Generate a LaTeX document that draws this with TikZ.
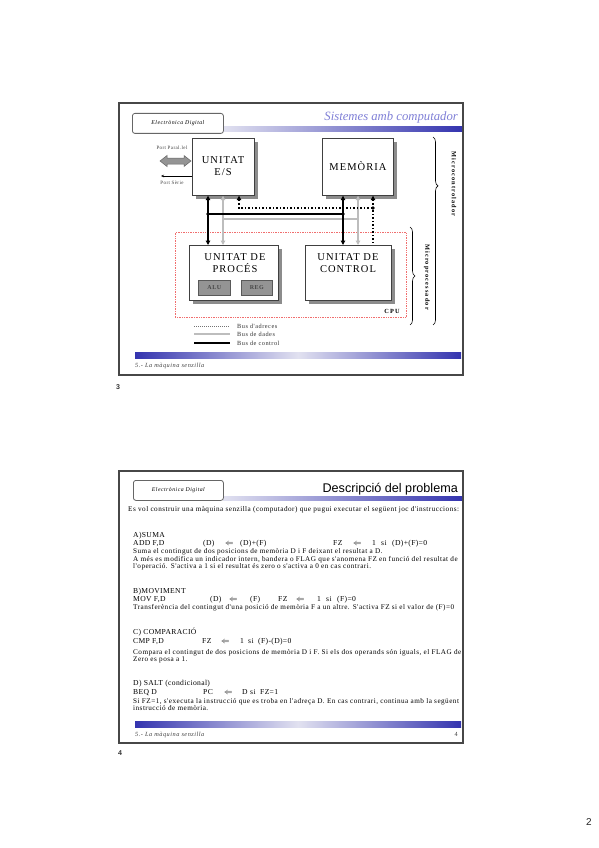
\documentclass[tikz,border=0pt]{standalone}
\usepackage{fontspec}
\setmainfont{Liberation Serif}
\newfontfamily\sansf{Liberation Sans}
\newfontfamily\boxf[LetterSpace=10]{Liberation Serif}
\newfontfamily\spacedf[LetterSpace=18]{Liberation Serif}
\newfontfamily\bodyf[LetterSpace=6.5]{Liberation Serif}
\newfontfamily\headf[LetterSpace=4.5]{Liberation Serif}
\newfontfamily\lsf[LetterSpace=8]{Liberation Serif}
\usetikzlibrary{arrows.meta,decorations.pathreplacing,shadows}
\definecolor{barblue}{RGB}{52,52,175}
\definecolor{barlight}{RGB}{225,225,240}
\definecolor{titlelav}{RGB}{128,128,215}
\definecolor{cpured}{RGB}{240,110,110}
\begin{document}
\begin{tikzpicture}[x=1pt,y=-1pt,
  slideframe/.style={draw=black!72,line width=1.3pt},
  hdrbox/.style={draw=black!60,line width=0.8pt,rounded corners=2.5pt,fill=white},
  unitbox/.style={draw=black!75,fill=white,line width=0.7pt,inner sep=0pt,anchor=north west,
    drop shadow={shadow xshift=3.5pt,shadow yshift=-3.5pt,fill=black!45,opacity=1}},
  subbox/.style={draw=black!65,fill=black!42,line width=0.6pt,inner sep=0pt,anchor=north west,
    font=\lsf\fontsize{6}{6}\bfseries\selectfont,text=black!72},
  boxtxt/.style={font=\boxf\fontsize{10.5}{12.5}\selectfont,align=center,inner sep=0pt},
  cbus/.style={line width=1.6pt,black},
  dbus/.style={line width=1.6pt,black!26},
  abus/.style={line width=1.5pt,black,dotted},
  body/.style={font=\bodyf\fontsize{7.2}{8}\selectfont,anchor=base west,inner sep=0pt},
  head/.style={font=\headf\fontsize{7.6}{8}\selectfont,anchor=base west,inner sep=0pt},
  small/.style={font=\lsf\fontsize{6.3}{6}\selectfont,anchor=west,inner sep=0pt,text=black!80},
  foot/.style={font=\lsf\fontsize{6.3}{6}\itshape\selectfont,anchor=base west,inner sep=0pt,text=black!75},
  hdrtxt/.style={font=\lsf\fontsize{5.8}{6}\itshape\selectfont,inner sep=0pt},
  porttxt/.style={font=\lsf\fontsize{5}{5}\selectfont,inner sep=0pt,text=black!75},
  pnum/.style={font=\sansf\fontsize{7}{7}\bfseries\selectfont,inner sep=0pt,text=black!80}
]
\useasboundingbox (0,0) rectangle (599,848);
\fill[white] (0,0) rectangle (599,848);

% ================= SLIDE 3 =================
\draw[slideframe] (119,103) rectangle (463,375);
\shade[left color=barlight,right color=barblue] (223,127) rectangle (462,132);
\node[hdrbox,minimum width=91pt,minimum height=20pt,anchor=north west] (hdr1) at (132,113) {};
\node[hdrtxt] (hdr1t) at (hdr1.center) {Electrònica Digital};
\node[font=\fontsize{12.7}{13}\itshape\selectfont,text=titlelav,anchor=base east,inner sep=0pt] (tit1) at (458,121) {Sistemes amb computador};

% units
\node[unitbox,minimum width=62pt,minimum height=57pt] (es) at (192,138) {};
\node[boxtxt] (eslbl) at (223,166) {UNITAT\\E/S};
\node[unitbox,minimum width=71pt,minimum height=57pt] (mem) at (322,138) {};
\node[boxtxt] (memlbl) at (358,166) {MEMÒRIA};

% CPU region
\node[draw=cpured,densely dotted,line width=0.7pt,minimum width=231pt,minimum height=85pt,anchor=north west,inner sep=0pt] (cpu) at (175,232) {};
\node[font=\spacedf\fontsize{6.3}{6}\bfseries\selectfont,inner sep=0pt] (cpulbl) at (392,311) {CPU};

\node[unitbox,minimum width=89pt,minimum height=55pt] (proc) at (189,245) {};
\node[boxtxt] (proclbl) at (235,263) {UNITAT DE\\PROCÉS};
\node[subbox,minimum width=32pt,minimum height=15pt] (alu) at (198,280) {ALU};
\node[subbox,minimum width=31pt,minimum height=15pt] (reg) at (241,280) {REG};
\node[unitbox,minimum width=86pt,minimum height=55pt] (ctrl) at (305,245) {};
\node[boxtxt] (ctrllbl) at (348,263) {UNITAT DE\\CONTROL};

% buses
\coordinate (cb1) at (208,214); \coordinate (cb2) at (343,214);
\coordinate (db1) at (223,219); \coordinate (db2) at (358,219);
\coordinate (ab1) at (239,208); \coordinate (ab2) at (373,208);
\draw[dbus,{Triangle[length=4.5pt,width=4.5pt]}-{Triangle[length=4.5pt,width=4.5pt]}] (es.south -| db1) -- (proc.north -| db1);
\draw[dbus,{Triangle[length=4.5pt,width=4.5pt]}-{Triangle[length=4.5pt,width=4.5pt]}] (mem.south -| db2) -- (ctrl.north -| db2);
\draw[dbus] (db1) -- (db2);
\draw[cbus,{Triangle[length=4.5pt,width=4.5pt]}-{Triangle[length=4.5pt,width=4.5pt]}] (es.south -| cb1) -- (proc.north -| cb1);
\draw[cbus,{Triangle[length=4.5pt,width=4.5pt]}-{Triangle[length=4.5pt,width=4.5pt]}] (mem.south -| cb2) -- (ctrl.north -| cb2);
\draw[cbus] (cb1) -- (cb2);
\fill (cb1) circle (1.9); \fill (cb2) circle (1.9);
\draw[abus,{Triangle[length=4.5pt,width=4.5pt]}-] (es.south -| ab1) -- (ab1) -- (ab2);
\draw[abus,{Triangle[length=4.5pt,width=4.5pt]}-] (mem.south -| ab2) -- (ctrl.north -| ab2);
\fill (ab2) circle (1.9);

% ports
\coordinate (ppl) at (160,161); \coordinate (ppr) at (191,161);
\filldraw[fill=black!42,draw=black!60,line width=0.5pt]
  (ppl) -- ++(7,-5.5) -- ++(0,2.5) -- ++(17,0) -- ++(0,-2.5) -- (ppr)
  -- ++(-7,5.5) -- ++(0,-2.5) -- ++(-17,0) -- ++(0,2.5) -- cycle;
\node[porttxt] (pparl) at (172,148) {Port Paral.lel};
\coordinate (pser) at (161,176);
\draw[-{Stealth[length=3pt,width=2.5pt]},line width=0.6pt] (es.west |- pser) -- (pser);
\node[porttxt] (pserl) at (172,183) {Port Sèrie};

% braces
\draw[decorate,decoration={brace,amplitude=5pt,aspect=0.26},line width=0.6pt] (433,137) -- (433,325);
\node[font=\spacedf\fontsize{6.3}{6}\bfseries\selectfont,rotate=-90,inner sep=0pt] (mctrl) at (454,184) {Microcontrolador};
\draw[decorate,decoration={brace,amplitude=5pt},line width=0.6pt] (410,227) -- (410,325);
\node[font=\spacedf\fontsize{6.3}{6}\bfseries\selectfont,rotate=-90,inner sep=0pt] (mproc) at (427,277) {Microprocessador};

% legend
\coordinate (l1a) at (194,326); \coordinate (l1b) at (230,326);
\coordinate (l2a) at (194,334); \coordinate (l2b) at (230,334);
\coordinate (l3a) at (194,343); \coordinate (l3b) at (230,343);
\draw[line width=1pt,black!55,densely dotted] (l1a) -- (l1b);
\draw[line width=1.2pt,black!26] (l2a) -- (l2b);
\draw[line width=1.5pt,black] (l3a) -- (l3b);
\node[small] (lg1) at (237,326) {Bus d'adreces};
\node[small] (lg2) at (237,334.5) {Bus de dades};
\node[small] (lg3) at (237,343) {Bus de control};

\shade[left color=barblue,right color=barblue,middle color=barlight] (135,352) rectangle (461,358);
\node[foot] (foot1) at (135,367) {5.- La màquina senzilla};
\node[pnum] (pn3) at (118,387) {3};

% ================= SLIDE 4 =================
\draw[slideframe] (119,471) rectangle (463,743);
\shade[left color=barlight,right color=barblue] (223,496) rectangle (462,500);
\node[hdrbox,minimum width=90pt,minimum height=20pt,anchor=north west] (hdr2) at (133,480) {};
\node[hdrtxt] (hdr2t) at (hdr2.center) {Electrònica Digital};
\node[font=\sansf\fontsize{12.6}{13}\selectfont,anchor=base east,inner sep=0pt] (tit2) at (458,492) {Descripció del problema};

\node[body] (t0) at (128,511) {Es vol construir una màquina senzilla (computador) que pugui executar el següent joc d'instruccions:};

\node[head] (ah) at (133,537) {A)SUMA};
\node[head] (a1) at (133,545) {ADD F,D};
\node[head] (a2) at (203,545) {(D)};
\node[head] (a3) at (225,545) {$\Leftarrow$};
\node[head] (a4) at (240,545) {(D)+(F)};
\node[head] (a5) at (333,545) {FZ};
\node[head] (a6) at (353,545) {$\Leftarrow$};
\node[head] (a7) at (372,545) {1};
\node[head] (a7b) at (381,545) {si};
\node[head] (a7c) at (392,545) {(D)+(F)=0};
\node[body] (a8) at (133,553.5) {Suma el contingut de dos posicions de memòria D i F deixant el resultat a D.};
\node[body] (a9) at (133,561.5) {A més es modifica un indicador intern, bandera o FLAG que s'anomena FZ en funció del resultat de};
\node[body] (a10) at (133,568.5) {l'operació. S'activa a 1 si el resultat és zero o s'activa a 0 en cas contrari.};

\node[head] (bh) at (133,593) {B)MOVIMENT};
\node[head] (b1) at (133,601) {MOV F,D};
\node[head] (b2) at (210,601) {(D)};
\node[head] (b3) at (229,601) {$\Leftarrow$};
\node[head] (b4) at (250,601) {(F)};
\node[head] (b5) at (278,601) {FZ};
\node[head] (b6) at (296,601) {$\Leftarrow$};
\node[head] (b7) at (317,601) {1};
\node[head] (b7b) at (326,601) {si};
\node[head] (b7c) at (337,601) {(F)=0};
\node[body] (b8) at (133,609.5) {Transferència del contingut d'una posició de memòria F a un altre. S'activa FZ si el valor de (F)=0};

\node[head] (ch) at (133,634) {C) COMPARACIÓ};
\node[head] (c1) at (133,643) {CMP F,D};
\node[head] (c2) at (202,643) {FZ};
\node[head] (c3) at (221,643) {$\Leftarrow$};
\node[head] (c4) at (240,643) {1};
\node[head] (c4b) at (248,643) {si};
\node[head] (c4c) at (258,643) {(F)-(D)=0};
\node[body] (c5) at (133,654.5) {Compara el contingut de dos posicions de memòria D i F. Si els dos operands són iguals, el FLAG de};
\node[body] (c6) at (133,661.5) {Zero es posa a 1.};

\node[head] (dh) at (133,685) {D) SALT (condicional)};
\node[head] (d1) at (133,694) {BEQ D};
\node[head] (d2) at (203,694) {PC};
\node[head] (d3) at (224,694) {$\Leftarrow$};
\node[head] (d4) at (242,694) {D};
\node[head] (d4b) at (250,694) {si};
\node[head] (d4c) at (260,694) {FZ=1};
\node[body] (d5) at (133,703.5) {Si FZ=1, s'executa la instrucció que es troba en l'adreça D. En cas contrari, continua amb la següent};
\node[body] (d6) at (133,710.5) {instrucció de memòria.};

\shade[left color=barblue,right color=barblue,middle color=barlight] (135,721) rectangle (461,727);
\node[foot] (foot2) at (135,736) {5.- La màquina senzilla};
\node[font=\fontsize{6.3}{6}\selectfont,anchor=base east,inner sep=0pt,text=black!75] (pg4) at (458,736) {4};
\node[pnum] (pn4) at (120,753) {4};

\node[font=\sansf\fontsize{10}{10}\selectfont,inner sep=0pt,text=black!85] (pn2) at (589,822) {2};
\end{tikzpicture}
\end{document}
